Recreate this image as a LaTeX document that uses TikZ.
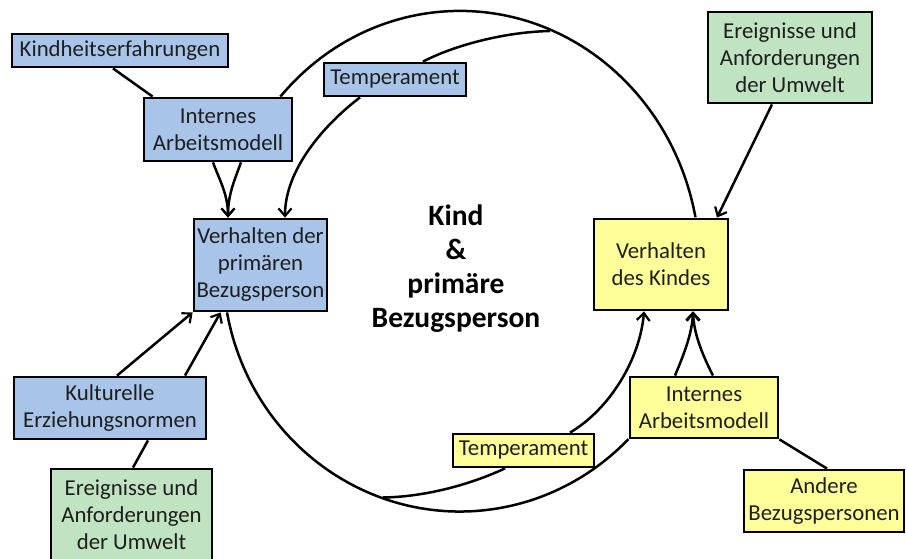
\documentclass[tikz,border=0pt]{standalone}
\usepackage{fontspec}
\setmainfont{Carlito}
\usetikzlibrary{arrows.meta}
\definecolor{boxblue}{RGB}{168,196,232}
\definecolor{boxgreen}{RGB}{192,228,194}
\definecolor{boxyellow}{RGB}{255,255,153}
\definecolor{txt}{RGB}{30,30,30}
\begin{document}
\begin{tikzpicture}[x=1pt,y=1pt,
  box/.style={draw=black, line width=2.8pt, inner sep=0pt, align=center,
    font=\fontsize{22.8}{27}\selectfont, text=txt},
  bluebox/.style={box, fill=boxblue},
  greenbox/.style={box, fill=boxgreen},
  yellowbox/.style={box, fill=boxyellow},
  conn/.style={line width=2.5pt, draw=black},
  arr/.style={conn, -{Straight Barb[length=7.5pt,width=13pt,line width=2.2pt]}}
]
\useasboundingbox (0,0) rectangle (906,559);

% nodes
\node[bluebox, minimum width=216, minimum height=33] (kh) at (120,508.5) {Kindheitserfahrungen};
\node[bluebox, minimum width=148, minimum height=63] (ima) at (218,429.5) {Internes\\Arbeitsmodell};
\node[bluebox, minimum width=142, minimum height=33] (tb) at (395,479.5) {Temperament};
\node[bluebox, minimum width=133, minimum height=92] (vp) at (260.5,294) {Verhalten der\\primären\\Bezugsperson};
\node[bluebox, minimum width=192, minimum height=62] (ke) at (110,151) {Kulturelle\\Erziehungsnormen};
\node[greenbox, minimum width=161, minimum height=91] (gl) at (131.5,44.5) {Ereignisse und\\Anforderungen\\der Umwelt};
\node[greenbox, minimum width=164, minimum height=91] (gr) at (790,501.5) {Ereignisse und\\Anforderungen\\der Umwelt};
\node[yellowbox, minimum width=134, minimum height=91] (vk) at (661,294.5) {Verhalten\\des Kindes};
\node[yellowbox, minimum width=148, minimum height=61] (imy) at (704,151.5) {Internes\\Arbeitsmodell};
\node[yellowbox, minimum width=141, minimum height=33] (ty) at (523.5,108.5) {Temperament};
\node[yellowbox, minimum width=160, minimum height=62] (ab) at (824,58) {Andere\\Bezugspersonen};

\node[align=center, text=black, font=\bfseries\fontsize{29.5}{34}\selectfont] (mid) at (456,290)
  {Kind\\\&\\primäre\\Bezugsperson};

% junction points on the circle
\coordinate (jtop) at (550,528);
\coordinate (jbot) at (383,61.5);

% top arc: Internes Arbeitsmodell (blue) -> Verhalten des Kindes
\draw[conn] ([xshift=-13pt]ima.north east) arc[start angle=138.4, end angle=11, x radius=240, y radius=255];

% bottom arc: Verhalten der primaeren Bezugsperson -> Internes Arbeitsmodell (yellow)
\draw[conn] ([xshift=-33.5pt]vp.south) arc[start angle=190.6, end angle=315.3, x radius=237, y radius=244];

% left side
\draw[conn] ([xshift=-7pt]kh.south) -- ([xshift=10pt]ima.north west);
\draw[arr] ([xshift=-5pt]ima.south) .. controls (219,380) and (228,365) .. ([xshift=-32.5pt]vp.north);
\draw[arr] ([xshift=23pt]ima.south) .. controls (235,380) and (228,365) .. ([xshift=-32.5pt]vp.north);
\draw[conn] ([xshift=28pt]tb.north) .. controls (455,514) and (505,527) .. (jtop);
\draw[arr] ([xshift=-35pt]tb.south) .. controls (325,435) and (285,390) .. ([xshift=24.5pt]vp.north);
\draw[arr] ([xshift=7pt]ke.north) -- (vp.south west);
\draw[arr] ([xshift=75pt]ke.north) -- ([xshift=28pt]vp.south west);
\draw[conn] ([xshift=1.5pt]gl.north) -- ([xshift=38pt]ke.south);

% right side
\draw[arr] ([xshift=-18pt]gr.south) -- ([xshift=56pt]vk.north);
\draw[arr] ([xshift=-29pt]imy.north) .. controls (684,205) and (692,225) .. ([xshift=32pt]vk.south);
\draw[arr] ([xshift=9pt]imy.north) .. controls (702,205) and (694,225) .. ([xshift=32pt]vk.south);
\draw[conn] (imy.south east) -- ([xshift=3pt]ab.north);
\draw[conn] ([xshift=-18.5pt]ty.south) .. controls (465,72) and (420,62) .. (jbot);
\draw[arr] ([xshift=46.5pt]ty.north) .. controls (610,150) and (640,200) .. ([xshift=-17pt]vk.south);
\end{tikzpicture}
\end{document}
